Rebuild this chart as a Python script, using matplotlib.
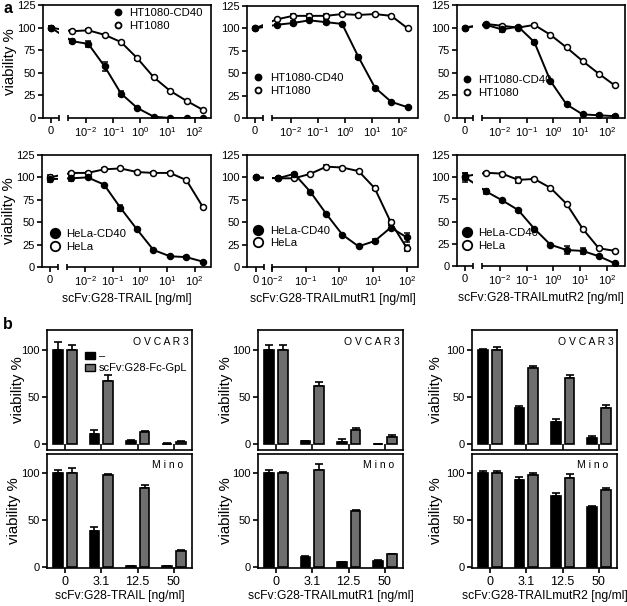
import matplotlib
matplotlib.use('Agg')
import matplotlib.pyplot as plt
import numpy as np
from matplotlib.lines import Line2D
from matplotlib.patches import Patch

plt.rcParams['font.family'] = ['Liberation Sans', 'DejaVu Sans']
plt.rcParams['mathtext.fontset'] = 'custom'
plt.rcParams['mathtext.rm'] = 'Liberation Sans'
plt.rcParams['mathtext.it'] = 'Liberation Sans:italic'
plt.rcParams['mathtext.bf'] = 'Liberation Sans:bold'
plt.rcParams['axes.linewidth'] = 1.2

# ---- panel a data (ng/ml, viability %) ----
conc4 = [0, 0.00305, 0.0122, 0.0488, 0.195, 0.781, 3.125, 12.5, 50, 200]
conc3 = [0, 0.0152, 0.0457, 0.137, 0.412, 1.23, 3.70, 11.1, 33.3, 100]

a1_cd40 = [100, 85, 82, 57, 27, 11, 1.5, 0, 0, 0]
a1_cd40_err = [2, 2, 3, 5, 3, 1, 0, 0, 0, 0]
a1_wt = [100, 96, 97, 92, 84, 66, 45, 30, 19, 9]
a1_wt_err = [2, 1, 1, 1, 1, 2, 1, 1, 1, 1]

a2_cd40 = [100, 104, 106, 109, 107, 105, 68, 34, 18, 12]
a2_cd40_err = [2, 1, 2, 1, 2, 1, 2, 1, 1, 1]
a2_wt = [100, 110, 114, 114, 114, 116, 115, 116, 114, 100]
a2_wt_err = [2, 1, 2, 2, 2, 1, 1, 1, 1, 1]

a3_cd40 = [100, 103, 98, 101, 84, 41, 15, 4, 3, 2]
a3_cd40_err = [1, 1, 3, 1, 2, 1, 1, 1, 1, 1]
a3_wt = [100, 104, 102, 100, 103, 92, 78, 63, 49, 36]
a3_wt_err = [1, 1, 1, 1, 1, 1, 1, 1, 1, 1]

a4_cd40 = [98, 99, 100, 92, 66, 42, 19, 12, 11, 6]
a4_cd40_err = [3, 3, 1, 1, 3, 1, 1, 1, 1, 1]
a4_wt = [100, 105, 105, 109, 110, 106, 105, 105, 97, 67]
a4_wt_err = [3, 1, 1, 1, 1, 1, 1, 1, 1, 1]

a5_cd40 = [100, 99, 104, 84, 59, 36, 23, 29, 44, 33]
a5_cd40_err = [1, 1, 1, 1, 1, 1, 1, 2, 3, 5]
a5_wt = [100, 99, 99, 104, 112, 111, 107, 88, 50, 21]
a5_wt_err = [1, 2, 1, 1, 2, 1, 1, 2, 3, 3]

a6_cd40 = [100, 84, 74, 63, 42, 24, 18, 17, 11, 3]
a6_cd40_err = [5, 3, 2, 1, 1, 1, 4, 3, 1, 1]
a6_wt = [101, 105, 104, 97, 98, 88, 70, 42, 20, 17]
a6_wt_err = [4, 1, 1, 3, 1, 1, 1, 1, 1, 1]

a_xlabels = ['scFv:G28-TRAIL [ng/ml]', 'scFv:G28-TRAILmutR1 [ng/ml]', 'scFv:G28-TRAILmutR2 [ng/ml]']
a_yticks = [0, 25, 50, 75, 100, 125]

# ---- panel b data ----
b_conc = ['0', '3.1', '12.5', '50']
b_legend = ['\u2013', 'scFv:G28-Fc-GpL']

ovcar_trail_ctrl = [100, 10.5, 2.8, 0.5]
ovcar_trail_ctrl_err = [8, 4.5, 1, 0.3]
ovcar_trail_gpl = [100, 67, 12.4, 2]
ovcar_trail_gpl_err = [5, 6, 1.5, 1.5]
ovcar_r1_ctrl = [100, 3, 1.8, 0]
ovcar_r1_ctrl_err = [5, 0.5, 3, 0]
ovcar_r1_gpl = [100, 62, 15, 7]
ovcar_r1_gpl_err = [5, 4, 1.5, 2.5]
ovcar_r2_ctrl = [100, 38, 23, 6]
ovcar_r2_ctrl_err = [0.5, 2, 4, 2]
ovcar_r2_gpl = [100, 81, 70, 38]
ovcar_r2_gpl_err = [3, 2, 3, 3]

mino_trail_ctrl = [100, 38.5, 1, 1]
mino_trail_ctrl_err = [3, 4, 0.5, 0.5]
mino_trail_gpl = [100, 97.5, 83.5, 17]
mino_trail_gpl_err = [4.5, 1, 3, 1]
mino_r1_ctrl = [100, 10.5, 5.5, 6.3]
mino_r1_ctrl_err = [3, 1, 0.5, 1]
mino_r1_gpl = [100, 103, 59, 13.5]
mino_r1_gpl_err = [1, 6, 1.5, 0.5]
mino_r2_ctrl = [100, 92, 75.5, 63.5]
mino_r2_ctrl_err = [2, 3.5, 3, 1]
mino_r2_gpl = [100, 97.5, 94, 81.5]
mino_r2_gpl_err = [2, 2, 4, 2]

W, H = 627, 606
fig = plt.figure(figsize=(W / 100, H / 100), dpi=100)


def add_ax(l, r, t, b):
    return fig.add_axes([l / W, 1 - b / H, (r - l) / W, (b - t) / H])


def set_ylab(ax, l, r, center_px):
    # put the rotated label so its visual centre sits at center_px (figure pixels)
    ax.set_ylabel('viability %', fontsize=10.8)
    ax.yaxis.set_label_coords((center_px + 7.0 - l) / (r - l), 0.5)


def xpos(conc, zero_pos):
    c = np.array(conc, dtype=float)
    out = np.full(c.shape, zero_pos)
    out[c > 0] = np.log10(c[c > 0])
    return out


def curve_panel(ax, conc, cd40, cd40_err, wt, wt_err, geom, labels, leg, big):
    xlim, zero_pos, brk, decades = geom
    x = xpos(conc, zero_pos)
    ax.errorbar(x, wt, yerr=wt_err, fmt='-o', color='k', mfc='white', mec='k',
                ms=4.3, mew=1.1, lw=1.4, capsize=2, elinewidth=1, zorder=2)
    ax.errorbar(x, cd40, yerr=cd40_err, fmt='-o', color='k', mfc='k', mec='k',
                ms=4.3, mew=1.1, lw=1.4, capsize=2, elinewidth=1, zorder=2)
    ax.set_xlim(*xlim)
    ax.set_ylim(0, 125)
    ax.set_yticks(a_yticks)
    ax.set_xticks([zero_pos] + decades)
    ax.set_xticklabels(['0'] + ['$10^{%d}$' % d for d in decades])
    ax.tick_params(direction='out', length=3.5, width=1.2, labelsize=8, pad=2)
    # broken x axis
    ax.spines['bottom'].set_visible(False)
    ax.axvspan(brk[0], brk[1], color='white', lw=0, zorder=2.2)
    tr = ax.get_xaxis_transform()
    kw = dict(color='k', lw=1.2, transform=tr, clip_on=False, zorder=3, solid_capstyle='butt')
    ax.plot([xlim[0], brk[0]], [0, 0], **kw)
    ax.plot([brk[1], xlim[1]], [0, 0], **kw)
    for bx in brk:
        ax.plot([bx, bx], [-0.028, 0.028], **kw)
    ms = 6.8 if big else 4.3
    handles = [Line2D([], [], ls='none', marker='o', color='k', mfc='k', ms=ms, mew=1.3),
               Line2D([], [], ls='none', marker='o', color='k', mfc='white', ms=ms, mew=1.3)]
    ax.legend(handles, labels, loc='upper left', bbox_to_anchor=leg, frameon=False,
              fontsize=8.2, handlelength=0.8, handletextpad=0.6, labelspacing=0.25,
              borderpad=0, borderaxespad=0)


geom4 = ((-3.58, 2.6), -3.3, (-3.0, -2.65), [-2, -1, 0, 1, 2])
geom4w = ((-3.6, 2.68), -3.3, (-3.0, -2.68), [-2, -1, 0, 1, 2])
geom3 = ((-2.74, 2.33), -2.48, (-2.23, -2.0), [-2, -1, 0, 1, 2])

ax1 = add_ax(43, 211, 5, 118)
curve_panel(ax1, conc4, a1_cd40, a1_cd40_err, a1_wt, a1_wt_err, geom4,
            ['HT1080-CD40', 'HT1080'], (0.42, 0.97), False)
ax2 = add_ax(247, 418, 6, 118)
curve_panel(ax2, conc4, a2_cd40, a2_cd40_err, a2_wt, a2_wt_err, geom4w,
            ['HT1080-CD40', 'HT1080'], (0.04, 0.40), False)
ax3 = add_ax(457, 625, 5, 118)
curve_panel(ax3, conc4, a3_cd40, a3_cd40_err, a3_wt, a3_wt_err, geom4w,
            ['HT1080-CD40', 'HT1080'], (0.03, 0.38), False)
ax4 = add_ax(42, 211, 155, 267)
curve_panel(ax4, conc4, a4_cd40, a4_cd40_err, a4_wt, a4_wt_err, geom4,
            ['HeLa-CD40', 'HeLa'], (0.05, 0.34), True)
ax5 = add_ax(247, 418, 155, 267)
curve_panel(ax5, conc3, a5_cd40, a5_cd40_err, a5_wt, a5_wt_err, geom3,
            ['HeLa-CD40', 'HeLa'], (0.04, 0.37), True)
ax6 = add_ax(457, 625, 155, 266)
curve_panel(ax6, conc4, a6_cd40, a6_cd40_err, a6_wt, a6_wt_err, geom4w,
            ['HeLa-CD40', 'HeLa'], (0.03, 0.34), True)

set_ylab(ax1, 43, 211, 9.5)
set_ylab(ax4, 42, 211, 9.5)
for ax, lab in zip((ax4, ax5, ax6), a_xlabels):
    ax.set_xlabel(lab, fontsize=8.7, labelpad=3)


# ---- panel b ----
def bar_panel(ax, ctrl, ctrl_err, gpl, gpl_err, cell, cell_x, bottom_row):
    x = np.arange(len(b_conc))
    w, off = 0.27, 0.19
    zeros = np.zeros(len(x))
    ax.bar(x - off, ctrl, w, color='black', edgecolor='black', lw=1.2, zorder=2)
    ax.bar(x + off, gpl, w, color='#6e6e6e', edgecolor='black', lw=1.2, zorder=2)
    ekw = dict(fmt='none', ecolor='black', elinewidth=1.2, capsize=3, capthick=1.2, zorder=1.5)
    ax.errorbar(x - off, ctrl, yerr=[zeros, ctrl_err], **ekw)
    ax.errorbar(x + off, gpl, yerr=[zeros, gpl_err], **ekw)
    ax.set_xlim(-0.5, 3.5)
    ax.set_yticks([0, 50, 100])
    ax.set_xticks(x)
    ax.tick_params(direction='out', length=3.5, width=1.2, labelsize=8, pad=2)
    if bottom_row:
        ax.set_ylim(-0.8, 119.6)
        ax.set_xticklabels(b_conc)
        ax.tick_params(axis='x', labelsize=9)
    else:
        ax.set_ylim(-6.4, 121)
        ax.set_xticklabels([])
        ax.tick_params(axis='x', direction='in', length=4)
    ax.text(cell_x, 0.9, ' '.join(cell), transform=ax.transAxes, ha='right',
            va='center', fontsize=7.5)


b_rows = [
    (330, 450, 'OVCAR3', 0.975, False, [18.5, 226, 436],
     [(ovcar_trail_ctrl, ovcar_trail_ctrl_err, ovcar_trail_gpl, ovcar_trail_gpl_err),
      (ovcar_r1_ctrl, ovcar_r1_ctrl_err, ovcar_r1_gpl, ovcar_r1_gpl_err),
      (ovcar_r2_ctrl, ovcar_r2_ctrl_err, ovcar_r2_gpl, ovcar_r2_gpl_err)]),
    (454, 568, 'Mino', 0.94, True, [14, 226, 436],
     [(mino_trail_ctrl, mino_trail_ctrl_err, mino_trail_gpl, mino_trail_gpl_err),
      (mino_r1_ctrl, mino_r1_ctrl_err, mino_r1_gpl, mino_r1_gpl_err),
      (mino_r2_ctrl, mino_r2_ctrl_err, mino_r2_gpl, mino_r2_gpl_err)]),
]
b_cols = [(47, 192), (258, 403), (472, 617)]

b_axes = []
for top, bot, cell, cx, bottom_row, ylab_x, sets in b_rows:
    row = []
    for (l, r), lx, vals in zip(b_cols, ylab_x, sets):
        ax = add_ax(l, r, top, bot)
        bar_panel(ax, *vals, cell, cx, bottom_row)
        set_ylab(ax, l, r, lx)
        row.append(ax)
    b_axes.append(row)

for ax, lab in zip(b_axes[1], a_xlabels):
    ax.set_xlabel(lab, fontsize=8.7, labelpad=2)

b_axes[0][0].legend([Patch(facecolor='black', edgecolor='black'),
                     Patch(facecolor='#6e6e6e', edgecolor='black')], b_legend,
                    loc='upper left', bbox_to_anchor=(0.26, 0.82), frameon=False,
                    fontsize=8, handlelength=0.9, handleheight=0.6, handletextpad=0.4,
                    labelspacing=0.15, borderpad=0, borderaxespad=0)

fig.text(3 / W, 1 - 1 / H, 'a', fontsize=11.5, fontweight='bold', va='top', ha='left')
fig.text(3 / W, 1 - 317 / H, 'b', fontsize=11.5, fontweight='bold', va='top', ha='left')

fig.savefig('out.png', dpi=100)
